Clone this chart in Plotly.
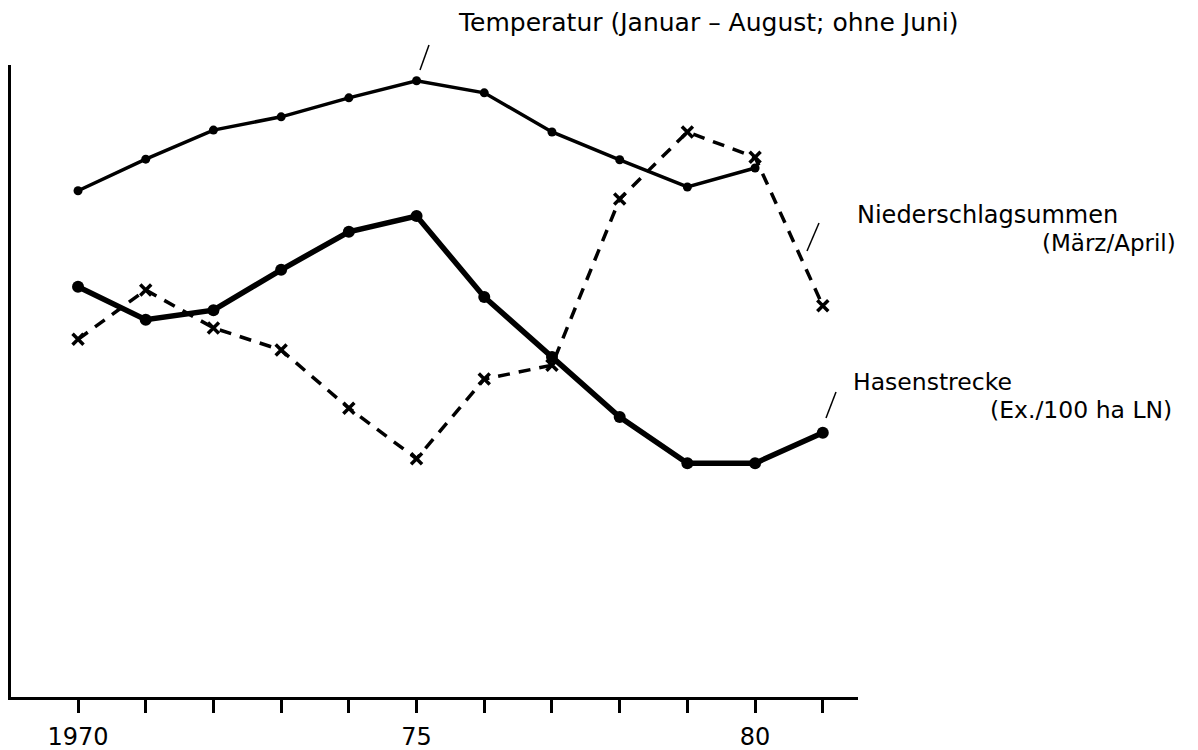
import plotly.graph_objects as go

years = list(range(1970, 1982))
temp_years = list(range(1970, 1981))
temperatur = [80.1, 85.1, 89.7, 91.8, 94.8, 97.5, 95.6, 89.4, 85.0, 80.7, 83.7]
hasenstrecke = [64.9, 59.7, 61.2, 67.6, 73.6, 76.1, 63.3, 53.8, 44.3, 37.0, 37.0, 41.8]
niederschlag = [56.6, 64.4, 58.4, 54.9, 45.7, 37.7, 50.3, 52.5, 78.8, 89.4, 85.4, 61.9]
tick_text = ["1970", "", "", "", "", "75", "", "", "", "", "80", ""]

W, H = 1198, 750
OFF = 8  # page body margin offset
L, R, T, B = 11 - OFF, 858 - OFF, 65 - OFF, 697 - OFF
FONT = "DejaVu Sans, Liberation Sans, sans-serif"
FS = 23


def px(x):
    return (x - OFF - L) / (R - L)


def py(y):
    return (B - (y - OFF)) / (B - T)


fig = go.Figure()
fig.add_trace(go.Scatter(
    x=temp_years, y=temperatur, mode="lines+markers",
    line=dict(color="black", width=3.5),
    marker=dict(color="black", size=9),
    name="Temperatur"))
fig.add_trace(go.Scatter(
    x=years, y=hasenstrecke, mode="lines+markers",
    line=dict(color="black", width=5.5),
    marker=dict(color="black", size=12),
    name="Hasenstrecke"))
fig.add_trace(go.Scatter(
    x=years, y=niederschlag, mode="lines+markers",
    line=dict(color="black", width=3.5, dash="12px,9px"),
    marker=dict(symbol="x-thin", size=11, line=dict(color="black", width=3.5)),
    name="Niederschlagsummen"))

annots = [
    dict(text="Temperatur (Januar – August; ohne Juni)", x=px(456), y=py(22), xanchor="left", size=25),
    dict(text="Niederschlagsummen", x=px(855), y=py(215), xanchor="left", size=24),
    dict(text="(März/April)", x=px(1178), y=py(243), xanchor="right", size=23),
    dict(text="Hasenstrecke", x=px(851), y=py(382), xanchor="left", size=23.5),
    dict(text="(Ex./100 ha LN)", x=px(1174), y=py(410), xanchor="right", size=23.5),
]
for a in annots:
    size = a.pop("size")
    fig.add_annotation(xref="paper", yref="paper", showarrow=False, yanchor="middle",
                       font=dict(family=FONT, size=size, color="black"), **a)

leaders = [((420, 70), (429, 45)), ((807, 251), (819, 223)), ((826, 418), (836, 392))]
for (x0, y0), (x1, y1) in leaders:
    fig.add_shape(type="line", xref="paper", yref="paper",
                  x0=px(x0), y0=py(y0), x1=px(x1), y1=py(y1),
                  line=dict(color="black", width=1.5))

fig.update_layout(
    width=W, height=H,
    margin=dict(l=L, r=W - R, t=T, b=H - B),
    paper_bgcolor="white", plot_bgcolor="white",
    showlegend=False,
    font=dict(family=FONT, color="black"),
    xaxis=dict(range=[1969.01, 1981.52], showgrid=False, zeroline=False,
               showline=True, linecolor="black", linewidth=3,
               tickmode="array", tickvals=years, ticktext=tick_text,
               ticks="outside", ticklen=13, tickwidth=2.5, tickcolor="black",
               ticklabelstandoff=3,
               tickfont=dict(family=FONT, size=24, color="black")),
    yaxis=dict(range=[0, 100], showgrid=False, zeroline=False,
               showline=True, linecolor="black", linewidth=3,
               showticklabels=False, ticks=""),
)

fig.write_html("out.html")
